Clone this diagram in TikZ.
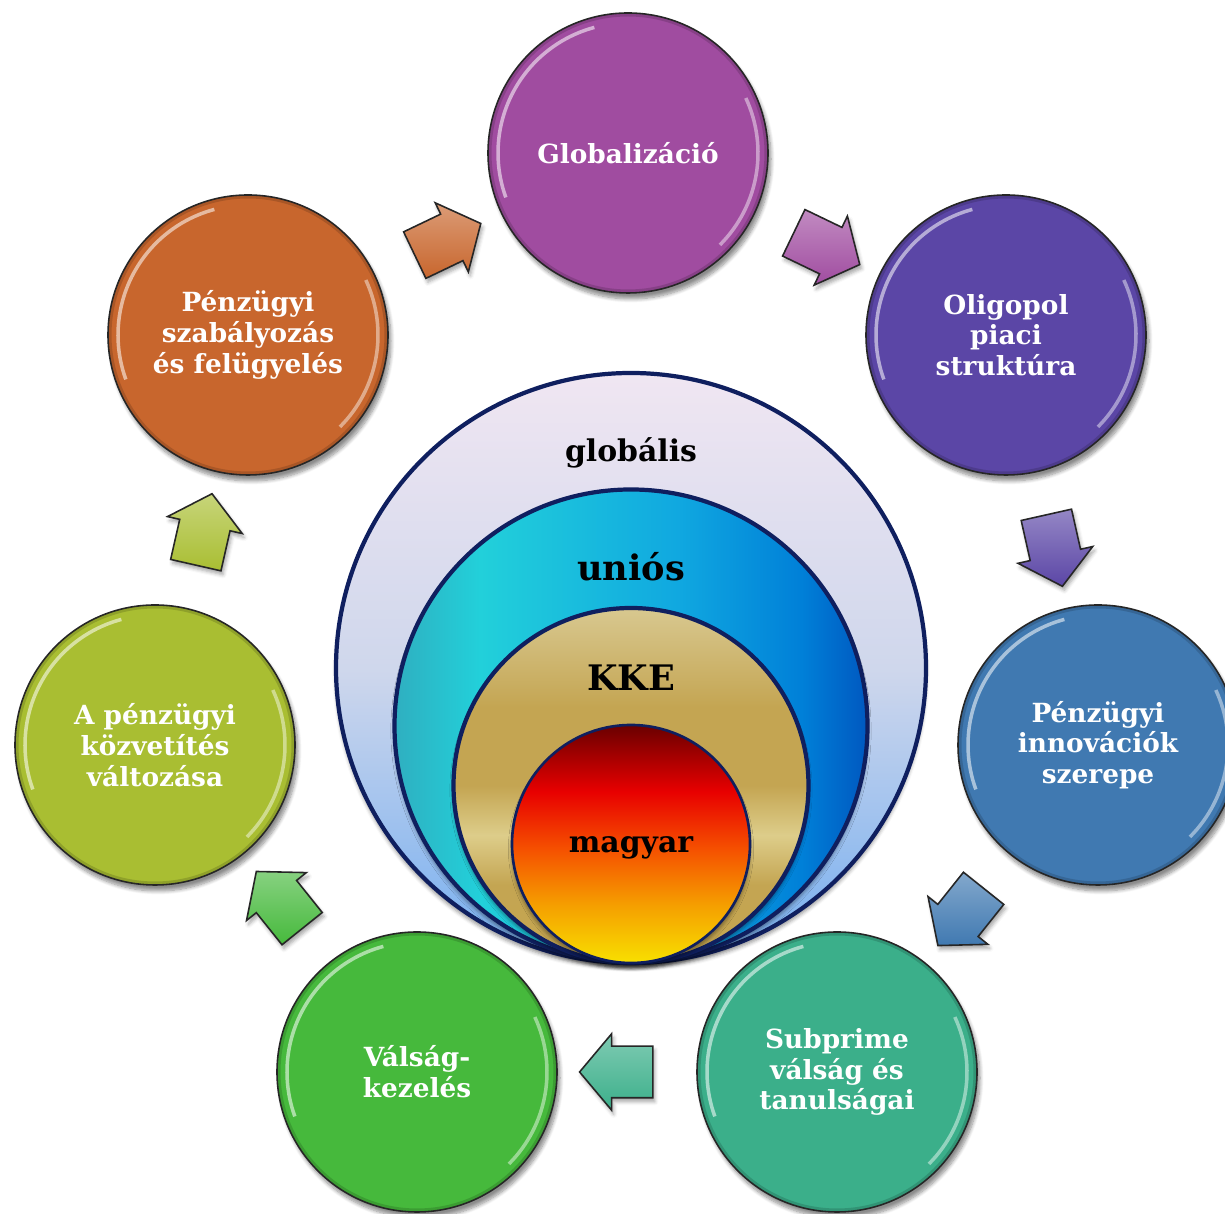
\documentclass[tikz,border=0pt]{standalone}
\usepackage{fontspec}
\setmainfont{DejaVu Serif}
\usetikzlibrary{shapes.arrows, shadows.blur, positioning}

\definecolor{globcol}{HTML}{A04CA0}
\definecolor{oligcol}{HTML}{5B46A6}
\definecolor{innovcol}{HTML}{4079B1}
\definecolor{subpcol}{HTML}{3BAF8A}
\definecolor{valsagcol}{HTML}{46B93C}
\definecolor{kozvcol}{HTML}{A9BE32}
\definecolor{szabcol}{HTML}{C8662D}
\definecolor{ringblue}{HTML}{0F1F5F}
% shadings of the centre
\definecolor{outA}{HTML}{F0E6F2}
\definecolor{outB}{HTML}{CFD7EC}
\definecolor{outC}{HTML}{74AEF0}
\definecolor{magA}{HTML}{F8E000}
\definecolor{magB}{HTML}{F5A000}
\definecolor{magC}{HTML}{F55000}
\definecolor{magD}{HTML}{E80000}
\definecolor{magE}{HTML}{6A0000}
\definecolor{kkeA}{HTML}{C5A650}
\definecolor{kkeB}{HTML}{DDCD8A}
\definecolor{kkeC}{HTML}{C4A552}
\definecolor{kkeD}{HTML}{D8C890}
\definecolor{uniA}{HTML}{2FAFC0}
\definecolor{uniB}{HTML}{22D0DA}
\definecolor{uniC}{HTML}{10A8E0}
\definecolor{uniD}{HTML}{0080D8}
\definecolor{uniE}{HTML}{0058C0}
\pgfdeclareverticalshading{magyarshade}{100bp}{color(0bp)=(magA); color(25bp)=(magA); color(37bp)=(magB); color(49bp)=(magC); color(61bp)=(magD); color(75bp)=(magE); color(100bp)=(magE)}
\pgfdeclareverticalshading{kkeshade}{100bp}{color(0bp)=(kkeA); color(25bp)=(kkeA); color(36bp)=(kkeC); color(43bp)=(kkeB); color(50bp)=(kkeC); color(61bp)=(kkeC); color(75bp)=(kkeD); color(100bp)=(kkeD)}
\pgfdeclarehorizontalshading{uniosshade}{100bp}{color(0bp)=(uniA); color(25bp)=(uniA); color(34bp)=(uniB); color(55bp)=(uniC); color(68bp)=(uniD); color(75bp)=(uniE); color(100bp)=(uniE)}

\tikzset{
	bubble/.style={circle, minimum size=5.6cm, inner sep=0pt, fill=#1, draw=black!85, line width=0.9pt,
		text=white, align=center, font=\fontsize{15}{17.5}\selectfont\bfseries,
		blur shadow={shadow xshift=0.6mm, shadow yshift=-1.2mm, shadow blur steps=8, shadow opacity=45},
		path picture={
			\draw[#1!70!black, opacity=0.5, line width=4pt] (path picture bounding box.center) circle (2.8);
			\draw[white, opacity=0.55, line width=2pt] ([shift={(105:2.6)}]path picture bounding box.center) arc (105:200:2.6);
			\draw[white, opacity=0.45, line width=2pt] ([shift={(-45:2.6)}]path picture bounding box.center) arc (-45:25:2.6);
		}},
	flow/.style={single arrow, single arrow head extend=0.25cm, single arrow tip angle=100,
		inner xsep=0.5cm, inner ysep=0.5cm, draw=black!85, line width=0.9pt,
		top color=#1!65!white, bottom color=#1,
		allow upside down, blur shadow={shadow xshift=0.4mm, shadow yshift=-0.8mm, shadow opacity=35}},
	ring/.style={circle, inner sep=0pt, draw=ringblue, line width=2.4pt,
		blur shadow={shadow xshift=0mm, shadow yshift=-1mm, shadow opacity=40}},
	ringtext/.style={font=\fontsize{#1}{#1}\selectfont\bfseries, text=black},
}

\begin{document}
\begin{tikzpicture}
	\useasboundingbox (0, 0) rectangle (24.5, 24.28);
	% Centre
	\node[ring, minimum size=11.8cm, top color=outA, bottom color=outC, middle color=outB] (outer) at (12.62, 10.92) {};
	\node[ring, minimum size=9.46cm, shade, shading=uniosshade] (unios) at (12.62, 9.76) {};
	\node[ring, minimum size=7.1cm, shade, shading=kkeshade] (kke) at (12.62, 8.57) {};
	\node[ring, minimum size=4.76cm, shade, shading=magyarshade, line width=1.5pt] (magyar) at (12.62, 7.40) {};
	\node[ringtext=17] (lglob) at (12.62, 15.22) {globális};
	\node[ringtext=20] (lunios) at (12.62, 12.94) {uniós};
	\node[ringtext=20] (lkke) at (12.62, 10.72) {KKE};
	\node[ringtext=17] (lmagyar) at (12.62, 7.32) {magyar};
	% Circles
	\node[bubble=globcol] (glob) at (12.56, 21.22) {Globalizáció};
	\node[bubble=oligcol] (olig) at (20.12, 17.58) {Oligopol\\piaci\\struktúra};
	\node[bubble=innovcol] (innov) at (21.96, 9.38) {Pénzügyi\\innovációk\\szerepe};
	\node[bubble=subpcol] (subp) at (16.74, 2.84) {Subprime\\válság és\\tanulságai};
	\node[bubble=valsagcol] (valsag) at (8.34, 2.84) {Válság-\\kezelés};
	\node[bubble=kozvcol] (kozv) at (3.10, 9.38) {A pénzügyi\\közvetítés\\változása};
	\node[bubble=szabcol] (szab) at (4.96, 17.58) {Pénzügyi\\szabályozás\\és felügyelés};
	% Arrows
	\path (szab) -- (glob) node[flow=szabcol, midway, sloped] (a1) {};
	\path (glob) -- (olig) node[flow=globcol, midway, sloped] (a2) {};
	\path (olig) -- (innov) node[flow=oligcol, midway, sloped] (a3) {};
	\path (innov) -- (subp) node[flow=innovcol, midway, sloped] (a4) {};
	\path (subp) -- (valsag) node[flow=subpcol, midway, sloped] (a5) {};
	\path (valsag) -- (kozv) node[flow=valsagcol, midway, sloped] (a6) {};
	\path (kozv) -- (szab) node[flow=kozvcol, midway, sloped] (a7) {};
\end{tikzpicture}
\end{document}
